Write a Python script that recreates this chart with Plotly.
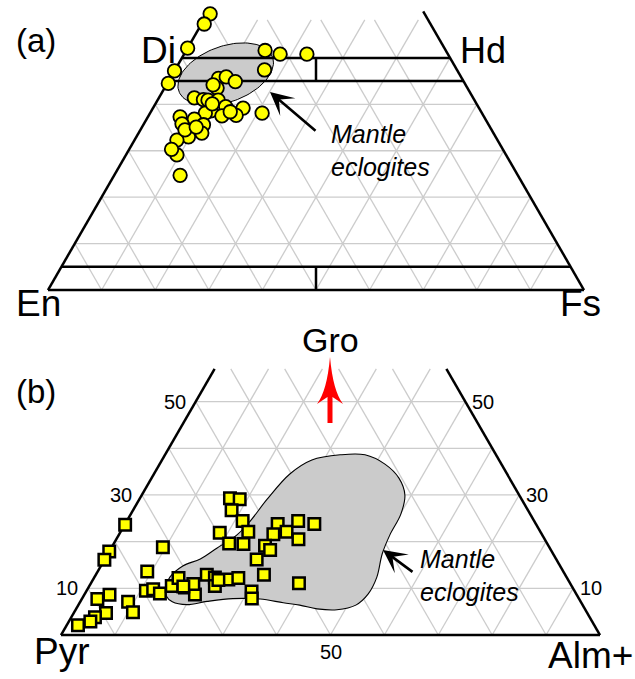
import numpy as np
import plotly.graph_objects as go

W, H = 635, 679
S3 = np.sqrt(3) / 2

# ---------------- data ----------------
# (a) clinopyroxene compositions: Wo (%) and Fs (%); En = 100 - Wo - Fs
cpx_wo = [59.5, 57.3, 52.1, 47.2, 44.5, 51.6, 50.8, 50.8, 47.4, 45.6, 45.9, 44.9, 43.5,
          41.4, 41.0, 40.9, 40.9, 39.5, 39.2, 38.1, 38.6, 38.1, 37.5, 37.6, 37.3, 36.8,
          35.6, 35.8, 33.8, 33.0, 32.3, 29.1, 30.3, 24.7, 40.1, 34.5, 35.1, 44.2, 38.4]
cpx_fs = [0.5, 0.5, 0.0, 0.0, 0.2, 14.7, 17.9, 22.9, 16.7, 9.0, 10.3, 12.5, 9.8,
          6.6, 8.5, 9.4, 11.3, 13.4, 16.8, 20.9, 11.1, 10.3, 13.7, 16.3, 6.0, 8.9,
          11.2, 7.1, 11.8, 9.7, 7.9, 9.5, 7.9, 12.3, 10.6, 8.3, 10.1, 8.7, 14.8]

# (b) garnet compositions: Gro (%) and Alm+ (%); Pyr = 100 - Gro - Alm
gt_gro = [23.6, 17.9, 16.1, 18.8, 13.6, 8.6, 7.7, 7.1, 4.9, 4.7, 3.8, 2.9, 2.1, 9.5, 9.8,
          8.9, 10.5, 12.2, 10.2, 8.7, 10.9, 12.9, 12.3, 10.5, 11.9, 12.2, 29.3, 29.1, 26.7,
          24.4, 21.9, 22.1, 19.6, 19.5, 23.8, 21.6, 22.1, 24.4, 23.8, 20.5, 19.1, 18.2,
          16.2, 12.9, 11.1, 9.3, 7.8, 11.8, 10.4]
gt_alm = [0.1, 0.0, 0.0, 9.5, 9.2, 4.7, 2.9, 8.9, 10.9, 6.0, 4.4, 4.0, 2.1, 11.0, 12.2,
          13.9, 15.3, 15.7, 17.9, 20.5, 19.1, 20.6, 22.4, 23.3, 25.1, 26.8, 16.7, 18.6, 18.3,
          21.5, 18.5, 23.7, 21.4, 24.1, 28.3, 28.6, 30.8, 31.8, 35.1, 33.8, 28.3, 29.7,
          28.2, 31.2, 38.6, 30.7, 31.5, 23.3, 17.5]

# mantle eclogite fields
ecl_a_center = (46.5, 9.9)      # (Wo, Fs)
ecl_a_axes = (9.3, 5.2)         # semi-axes in % units
ecl_a_angle = 20.0              # degrees
ecl_b_gro = [10.1, 12.4, 14.8, 16.3, 18.6, 21.4, 24.4, 29.1, 34.5, 37.5, 38.6, 38.6, 36.6,
             33.6, 30.0, 25.9, 21.4, 17.4, 12.4, 8.8, 6.4, 5.4, 5.6, 6.4, 6.9, 7.7, 7.8,
             7.2, 6.5, 7.1, 8.4]
ecl_b_alm = [14.3, 14.0, 15.2, 17.7, 19.6, 21.9, 22.9, 23.7, 25.2, 27.8, 32.5, 37.1, 41.8,
             45.9, 48.8, 50.1, 50.3, 50.9, 52.4, 52.6, 51.5, 48.5, 44.7, 41.1, 37.8, 33.1,
             28.0, 23.5, 20.1, 17.1, 15.3]

# quadrilateral divisions (Wo %)
quad_wo_lines = [0, 5, 45, 50]
b_ticks = [10, 30, 50]

# ---------------- helpers ----------------
def tern(top, right):
    top = np.asarray(top, float)
    right = np.asarray(right, float)
    return right + top * 0.5, top * S3


def segs(list_of_segments):
    xs, ys = [], []
    for (t0, r0, t1, r1) in list_of_segments:
        x, y = tern([t0, t1], [r0, r1])
        xs += list(x) + [None]
        ys += list(y) + [None]
    return xs, ys


def grid(tmax, step=10):
    s = []
    for k in range(step, 100, step):
        if k <= tmax:
            s.append((k, 0, k, 100 - k))
        t1 = min(tmax, 100 - k)
        s.append((0, k, t1, k))
        s.append((0, 100 - k, t1, 100 - k - t1))
    return segs(s)


def P(px, py):
    return px / W, 1 - py / H


FONT = "Arial, Liberation Sans, sans-serif"
GRID = "#cccccc"
FILL = "#cbcbcb"
YEL = "#ffff00"

fig = go.Figure()

# ---------------- panel (a) ----------------
A_TOP = 58.2
gx, gy = grid(A_TOP)
fig.add_trace(go.Scatter(x=gx, y=gy, mode="lines", line=dict(color=GRID, width=1.3),
                         xaxis="x", yaxis="y", hoverinfo="skip"))

t = np.linspace(0, 2 * np.pi, 121)
cx, cy = tern(ecl_a_center[0], ecl_a_center[1])
ang = np.deg2rad(ecl_a_angle)
ex = cx + ecl_a_axes[0] * np.cos(t) * np.cos(ang) - ecl_a_axes[1] * np.sin(t) * np.sin(ang)
ey = cy + ecl_a_axes[0] * np.cos(t) * np.sin(ang) + ecl_a_axes[1] * np.sin(t) * np.cos(ang)
fig.add_trace(go.Scatter(x=ex, y=ey, mode="lines", fill="toself", fillcolor=FILL,
                         line=dict(color="black", width=1), xaxis="x", yaxis="y",
                         hoverinfo="skip"))

a_lines = [(0, 0, 60, 0), (0, 100, 60, 40)]
a_lines += [(w, 0, w, 100 - w) for w in quad_wo_lines]
a_lines += [(0, 50, 5, 47.5), (45, 27.5, 50, 25)]
lx, ly = segs(a_lines)
fig.add_trace(go.Scatter(x=lx, y=ly, mode="lines", line=dict(color="black", width=2.5),
                         xaxis="x", yaxis="y", hoverinfo="skip"))

mx, my = tern(cpx_wo, cpx_fs)
fig.add_trace(go.Scatter(x=mx, y=my, mode="markers",
                         marker=dict(symbol="circle", size=13.5, color=YEL,
                                     line=dict(color="black", width=1.8)),
                         xaxis="x", yaxis="y"))

# ---------------- panel (b) ----------------
B_TOP = 57.0
gx, gy = grid(B_TOP)
fig.add_trace(go.Scatter(x=gx, y=gy, mode="lines", line=dict(color=GRID, width=1.3),
                         xaxis="x2", yaxis="y2", hoverinfo="skip"))

bx, by = tern(ecl_b_gro + ecl_b_gro[:1], ecl_b_alm + ecl_b_alm[:1])
fig.add_trace(go.Scatter(x=bx, y=by, mode="lines", fill="toself", fillcolor=FILL,
                         line=dict(color="black", width=1.1, shape="spline", smoothing=1.0),
                         xaxis="x2", yaxis="y2", hoverinfo="skip"))

lx, ly = segs([(0, 0, B_TOP, 0), (0, 100, B_TOP, 100 - B_TOP), (0, 0, 0, 100)])
fig.add_trace(go.Scatter(x=lx, y=ly, mode="lines", line=dict(color="black", width=2.5),
                         xaxis="x2", yaxis="y2", hoverinfo="skip"))

mx, my = tern(gt_gro, gt_alm)
fig.add_trace(go.Scatter(x=mx, y=my, mode="markers",
                         marker=dict(symbol="square", size=11.5, color=YEL,
                                     line=dict(color="black", width=2.5)),
                         xaxis="x2", yaxis="y2"))

# ---------------- axes ----------------
A_O, A_S = (48, 290), 5.36
B_O, B_S = (61, 635), 5.39
ax_common = dict(visible=False, showgrid=False, zeroline=False, fixedrange=True)
fig.update_layout(
    width=W, height=H, margin=dict(l=0, r=0, t=0, b=0),
    paper_bgcolor="white", plot_bgcolor="rgba(0,0,0,0)", showlegend=False,
    xaxis=dict(domain=[0, 1], range=[-A_O[0] / A_S, (W - A_O[0]) / A_S], anchor="y", **ax_common),
    yaxis=dict(domain=[0, 1], range=[(A_O[1] - H) / A_S, A_O[1] / A_S], anchor="x", **ax_common),
    xaxis2=dict(domain=[0, 1], range=[-B_O[0] / B_S, (W - B_O[0]) / B_S], anchor="y2", **ax_common),
    yaxis2=dict(domain=[0, 1], range=[(B_O[1] - H) / B_S, B_O[1] / B_S], anchor="x2", **ax_common),
)

# ---------------- text ----------------
def label(text, px, py, size, **kw):
    x, y = P(px, py)
    fig.add_annotation(x=x, y=y, xref="paper", yref="paper", text=text, showarrow=False,
                       font=dict(family=FONT, size=size, color="black"),
                       xanchor=kw.pop("xanchor", "center"), yanchor="middle",
                       borderpad=0, **kw)

label("(a)", 36, 40, 33)
label("(b)", 36, 392, 33)
label("Di", 158, 51, 37)
label("Hd", 483, 51, 36)
label("En", 38, 303, 37)
label("Fs", 580, 303, 37)
label("Gro", 330, 340, 34)
label("Pyr", 62, 651, 37)
label("Alm+", 590, 655, 37)

# tick labels of panel (b)
TICKFONT = dict(family=FONT, size=20, color="black")
for v in b_ticks:
    xl, yl = tern(v, 0)
    xr, yr = tern(v, 100 - v)
    fig.add_annotation(x=float(xl), y=float(yl), xref="x2", yref="y2", text=str(v),
                       showarrow=False, xshift=-21, font=TICKFONT)
    fig.add_annotation(x=float(xr), y=float(yr), xref="x2", yref="y2", text=str(v),
                       showarrow=False, xshift=18, font=TICKFONT)
xb, yb = tern(0, 50)
fig.add_annotation(x=float(xb), y=float(yb), xref="x2", yref="y2", text="50",
                   showarrow=False, yshift=-17, font=TICKFONT)

label("<i>Mantle<br>eclogites</i>", 330, 150, 25, xanchor="left", align="left")
label("<i>Mantle<br>eclogites</i>", 419, 575, 25, xanchor="left", align="left")

# pointer arrows
for (tx, ty, sx, sy) in [(270, 92, 317, 132), (383, 550, 414, 573)]:
    x, y = P(tx, ty)
    fig.add_annotation(x=x, y=y, xref="paper", yref="paper", text="", showarrow=True,
                       ax=sx - tx, ay=sy - ty, arrowhead=3, arrowsize=1.5, arrowwidth=2.6,
                       arrowcolor="black", standoff=0)

# red Gro arrow
pts = [("M", 330, 357), ("Q", 327, 391, 317, 404), ("L", 327.5, 397), ("L", 327.5, 423),
       ("L", 332.5, 423), ("L", 332.5, 397), ("L", 343, 404), ("Q", 333, 391, 330, 357)]
path = ""
for p in pts:
    cmd, coords = p[0], p[1:]
    cs = []
    for i in range(0, len(coords), 2):
        x, y = P(coords[i], coords[i + 1])
        cs.append(f"{x:.5f},{y:.5f}")
    path += cmd + " ".join(cs) + " "
path += "Z"
fig.add_shape(type="path", path=path, xref="paper", yref="paper",
              fillcolor="red", line=dict(color="red", width=0))

fig.write_html("out.html")
